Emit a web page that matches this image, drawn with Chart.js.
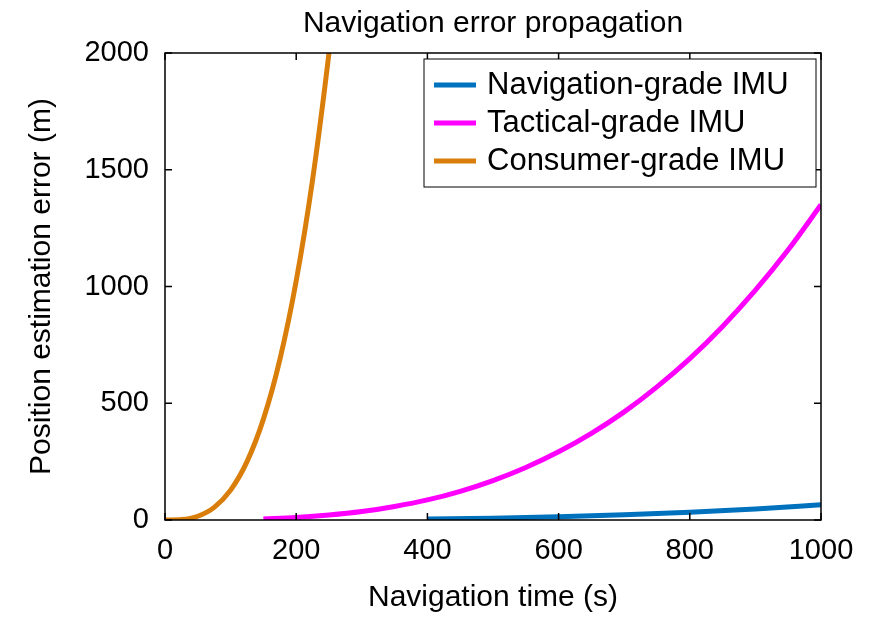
<!DOCTYPE html>
<html><head><script src="https://cdn.jsdelivr.net/npm/chart.js"></script>
<style>body{margin:0;background:#fff}#w{width:869px;height:628px}</style></head>
<body><div id="w"><canvas id="c"></canvas></div>
<script>
const xTicks=[0,200,400,600,800,1000];
const yTicks=[0,500,1000,1500,2000];
const consumerT=[0,25,50,75,100,125,150,175,200,225,250,256];
const consumerE=[0,2,16,54,128,250,432,686,1024,1458,2000,2150];
const tacticalT=[150,200,250,300,350,400,450,500,550,600,650,700,750,800,850,900,950,1000];
const tacticalE=[4.5,10.8,21,36,58,86,123,169,225,292,371,463,570,691,829,984,1157,1350];
const navT=[400,500,600,700,800,900,1000];
const navE=[4,8,14,22,33,47,65];
const names=['Navigation-grade IMU','Tactical-grade IMU','Consumer-grade IMU'];
const colors=['#0072BD','#FF00FF','#D97E0B'];
const F='"Liberation Sans", Arial, sans-serif';
const pts=(t,e)=>t.map((v,i)=>({x:v,y:e[i]}));
const deco={id:'deco',afterDraw(ch){
 const c=ch.ctx,a=ch.chartArea;c.save();
 c.strokeStyle='#000';c.lineWidth=1.5;c.strokeRect(a.left,a.top,a.right-a.left,a.bottom-a.top);
 const xs=ch.scales.x,ys=ch.scales.y;c.beginPath();
 xTicks.forEach(v=>{const p=xs.getPixelForValue(v);c.moveTo(p,a.bottom);c.lineTo(p,a.bottom-7);c.moveTo(p,a.top);c.lineTo(p,a.top+7);});
 yTicks.forEach(v=>{const p=ys.getPixelForValue(v);c.moveTo(a.left,p);c.lineTo(a.left+7,p);c.moveTo(a.right,p);c.lineTo(a.right-7,p);});
 c.stroke();
 c.fillStyle='#000';c.font='30px '+F;c.textAlign='center';c.textBaseline='middle';
 c.fillText('Navigation error propagation',(a.left+a.right)/2,24);
 c.save();c.translate(42,(a.top+a.bottom)/2);c.rotate(-Math.PI/2);c.fillText('Position estimation error (m)',0,0);c.restore();
 c.fillText('Navigation time (s)',(a.left+a.right)/2,598);
 const lx=424,ly=59,lw=392,lh=128;
 c.fillStyle='#fff';c.fillRect(lx,ly,lw,lh);c.lineWidth=1;c.strokeRect(lx,ly,lw,lh);
 c.font='31px '+F;c.textAlign='left';
 names.forEach((n,i)=>{const y=ly+26+i*38;c.strokeStyle=colors[i];c.lineWidth=5;c.beginPath();c.moveTo(lx+10,y);c.lineTo(lx+52,y);c.stroke();c.fillStyle='#000';c.fillText(n,lx+63,y);});
 c.restore();}};
new Chart(document.getElementById('c'),{type:'line',
 data:{datasets:[
  {label:names[0],data:pts(navT,navE),borderColor:colors[0]},
  {label:names[1],data:pts(tacticalT,tacticalE),borderColor:colors[1]},
  {label:names[2],data:pts(consumerT,consumerE),borderColor:colors[2]}]},
 options:{responsive:true,maintainAspectRatio:false,animation:false,
  elements:{point:{radius:0},line:{borderWidth:5,cubicInterpolationMode:'monotone'}},
  layout:{padding:{top:53,right:48,left:0,bottom:0}},
  plugins:{legend:{display:false},tooltip:{enabled:false}},
  scales:{
   x:{type:'linear',min:0,max:1000,afterBuildTicks:s=>{s.ticks=xTicks.map(v=>({value:v}));},
    grid:{display:false},border:{display:false},
    ticks:{font:{size:29,family:F},color:'#000',maxRotation:0,padding:6,callback:v=>String(v)},
    afterFit:s=>{s.height=108;}},
   y:{min:0,max:2000,afterBuildTicks:s=>{s.ticks=yTicks.map(v=>({value:v}));},
    grid:{display:false},border:{display:false},
    ticks:{font:{size:29,family:F},color:'#000',padding:8,callback:v=>String(v)},
    afterFit:s=>{s.width=165;}}}},
 plugins:[deco]});
</script></body></html>
